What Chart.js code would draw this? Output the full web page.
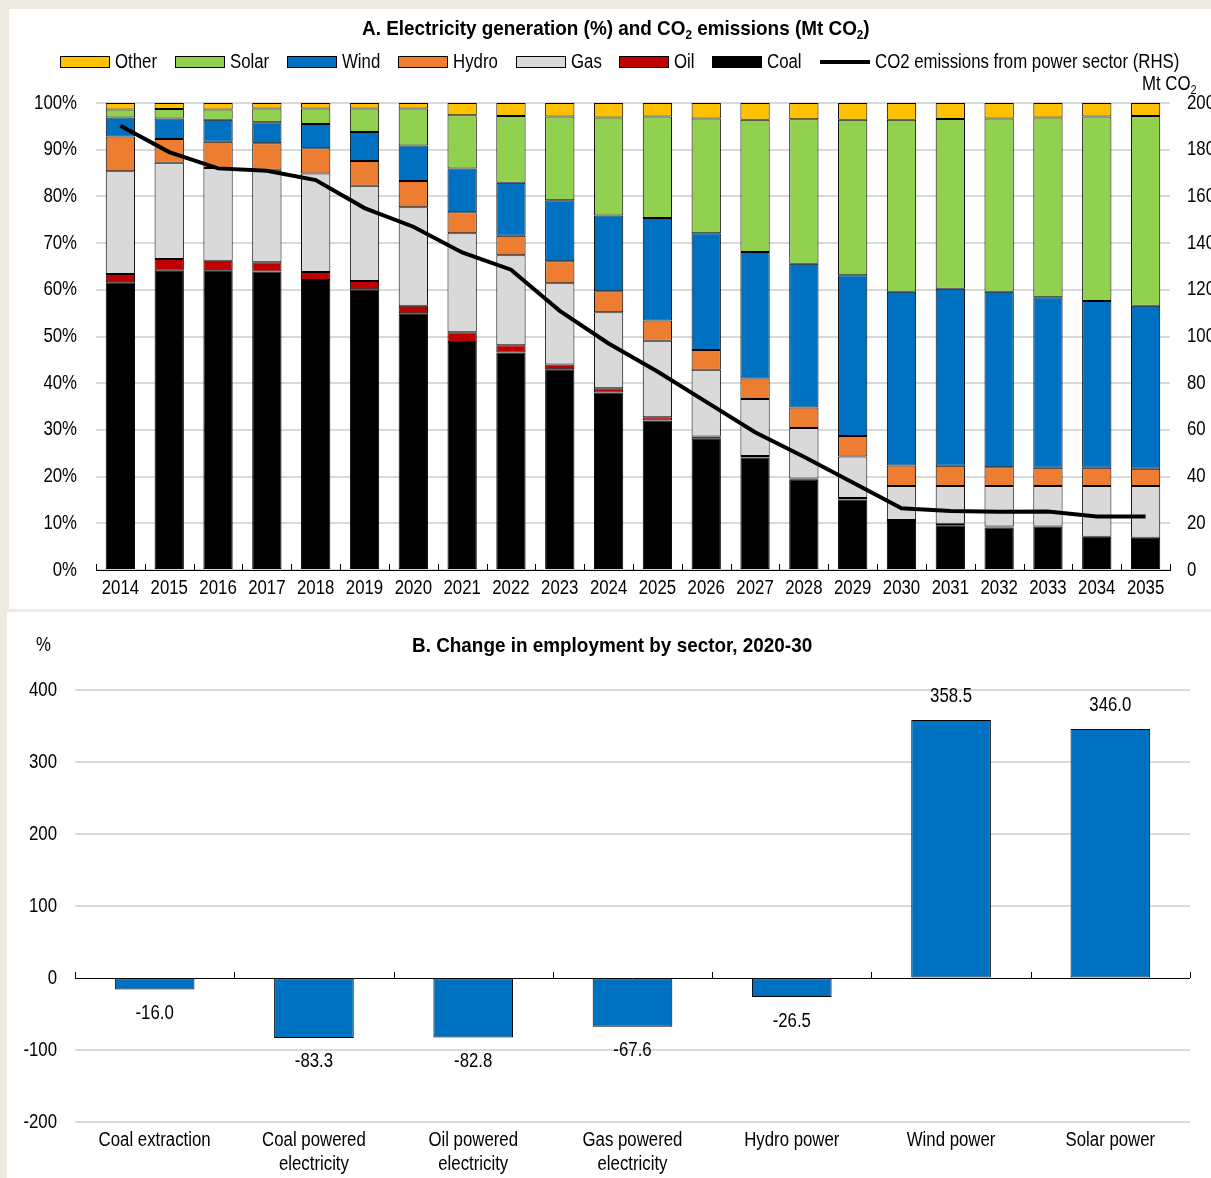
<!DOCTYPE html>
<html>
<head>
<meta charset="utf-8">
<script src="https://cdn.jsdelivr.net/npm/chart.js@4.4.1/dist/chart.umd.min.js"></script>
<style>
  body { margin: 0; background: #edebe0; width: 1211px; height: 1178px; overflow: hidden; position: relative;
         font-family: 'Liberation Sans', Arial, sans-serif; color: #000; }
  .panel { position: absolute; background: #fff; }
  #panelA { left: 9px; top: 9px; width: 1202px; height: 600px; }
  #panelB { left: 7px; top: 612px; width: 1204px; height: 566px; }
  canvas { position: absolute; left: 0; top: 0; }
  .txt { position: absolute; white-space: nowrap; transform-origin: left center; }
  .title { font-weight: bold; font-size: 21px; transform: scaleX(0.9); }
  .title sub, .unit sub { font-size: 13px; vertical-align: -4px; line-height: 0; }
  .lab { font-size: 20px; transform: scaleX(0.84); line-height: 22px; }
  .unit { font-size: 20px; transform: scaleX(0.84); }
  .sw { position: absolute; width: 48px; height: 10px; border: 1px solid #000; top: 47px; }
  .ln { position: absolute; width: 50px; height: 4px; background: #000; top: 51px; }
</style>
</head>
<body>
<div class="panel" id="panelA">
  <canvas id="chartA" width="1202" height="600"></canvas>
  <div class="txt title" style="left:353px; top:7px;">A. Electricity generation (%) and CO<sub>2</sub> emissions (Mt CO<sub>2</sub>)</div>
  <div id="legend"></div>
  <div class="txt unit" style="left:1133px; top:63px;">Mt CO<sub>2</sub></div>
</div>
<div class="panel" id="panelB">
  <canvas id="chartB" width="1204" height="566"></canvas>
  <div class="txt title" style="left:405px; top:21px;">B. Change in employment by sector, 2020-30</div>
  <div class="txt unit" style="left:29px; top:21px;">%</div>
</div>
<script>
// --- panel A data ---
const years = ['2014','2015','2016','2017','2018','2019','2020','2021','2022','2023','2024',
               '2025','2026','2027','2028','2029','2030','2031','2032','2033','2034','2035'];
const coal  = [61.6,64.1,64.2,63.9,62.1,60.1,55.0,48.8,46.6,43.0,38.0,32.0,28.1,24.1,19.3,15.1,10.5,9.6,9.1,9.3,7.1,6.9];
const oil   = [1.8,2.5,2.0,2.0,1.7,1.8,1.6,2.1,1.5,1.0,0.9,0.7,0.5,0.3,0.3,0.3,0.2,0.3,0.2,0.0,0.0,0.0];
const gas   = [22.0,20.6,19.9,19.8,21.1,20.4,21.1,21.2,19.3,17.4,16.3,16.4,14.3,12.2,10.8,8.9,7.3,8.1,8.7,8.7,10.9,11.1];
const hydro = [7.4,5.1,5.6,5.7,5.4,5.3,5.6,4.5,4.2,4.7,4.5,4.3,4.2,4.4,4.4,4.4,4.4,4.3,4.0,3.9,3.9,3.7];
const wind  = [4.1,4.4,4.7,4.5,5.2,6.2,7.6,9.4,11.3,13.1,16.2,22.0,25.0,27.1,30.8,34.4,37.2,37.9,37.6,36.5,35.7,34.9];
const solar = [1.7,2.0,2.2,2.9,3.3,5.0,7.9,11.4,14.3,17.9,21.0,21.7,24.6,28.3,30.9,33.3,36.8,36.4,37.1,38.5,39.5,40.6];
const other = [1.4,1.3,1.4,1.2,1.2,1.2,1.2,2.6,2.8,2.9,3.1,2.9,3.3,3.6,3.5,3.6,3.6,3.4,3.3,3.1,2.9,2.8];
const emissions = [190.3,179,172,171,167,155,147,136,128.6,111,97,85,72,59,48.5,37.5,26.4,25.3,24.9,25,22.9,22.9];
const pctTicks = [0,10,20,30,40,50,60,70,80,90,100];
const mtTicks = [0,20,40,60,80,100,120,140,160,180,200];

// --- panel B data ---
const sectors = ['Coal extraction', ['Coal powered','electricity'], ['Oil powered','electricity'],
                 ['Gas powered','electricity'], 'Hydro power', 'Wind power', 'Solar power'];
const jobChange = [-16.0,-83.3,-82.8,-67.6,-26.5,358.5,346.0];
const jobTicks = [-200,-100,0,100,200,300,400];

const FONT = "'Liberation Sans', Arial, sans-serif";
const SQUEEZE = 0.84;   // the original uses a narrow face
Chart.defaults.font.family = FONT;
Chart.defaults.font.size = 20;
Chart.defaults.color = '#000';
Chart.defaults.animation = false;

const series = [
  { label: 'Coal',  data: coal,  color: '#000000' },
  { label: 'Oil',   data: oil,   color: '#c00000' },
  { label: 'Gas',   data: gas,   color: '#d9d9d9' },
  { label: 'Hydro', data: hydro, color: '#ed7d31' },
  { label: 'Wind',  data: wind,  color: '#0070c0' },
  { label: 'Solar', data: solar, color: '#92d050' },
  { label: 'Other', data: other, color: '#ffc000' }
];

// legend, in the reference order: Other ... Coal, then the line
const legendX = [51, 166, 278, 389, 507, 610, 703];
const legend = document.getElementById('legend');
series.slice().reverse().forEach((s, i) => {
  legend.insertAdjacentHTML('beforeend',
    `<div class="sw" style="left:${legendX[i]}px;background:${s.color}"></div>` +
    `<div class="txt lab" style="left:${legendX[i] + 55}px;top:41px">${s.label}</div>`);
});
legend.insertAdjacentHTML('beforeend',
  `<div class="ln" style="left:811px"></div>` +
  `<div class="txt lab" style="left:866px;top:41px">CO2 emissions from power sector (RHS)</div>`);

function squeezedText(ctx, text, x, y, align) {
  ctx.save();
  ctx.translate(x, y);
  ctx.scale(SQUEEZE, 1);
  ctx.textAlign = align;
  ctx.textBaseline = 'middle';
  ctx.fillText(text, 0, 0);
  ctx.restore();
}

// small upward ticks on the category axis, at category boundaries
function innerTicks(getY) {
  return {
    id: 'innerTicks',
    afterDatasetsDraw(chart) {
      const x = chart.scales.x, ctx = chart.ctx;
      const y = getY(chart);
      const n = chart.data.labels.length;
      const step = (x.right - x.left) / n;
      ctx.save();
      ctx.strokeStyle = '#000';
      ctx.lineWidth = 1;
      ctx.beginPath();
      for (let i = 0; i <= n; i++) {
        const px = Math.round(x.left + i * step) + 0.5;
        ctx.moveTo(px, y);
        ctx.lineTo(px, y - 6);
      }
      ctx.stroke();
      ctx.restore();
    }
  };
}

const labelsA = {
  id: 'labelsA',
  afterDraw(chart) {
    const ctx = chart.ctx, area = chart.chartArea;
    const { x, y, y2 } = chart.scales;
    ctx.save();
    ctx.font = '20px ' + FONT;
    ctx.fillStyle = '#000';
    chart.data.labels.forEach((lab, i) => squeezedText(ctx, lab, x.getPixelForTick(i), area.bottom + 18, 'center'));
    y.ticks.forEach(t => squeezedText(ctx, t.value + '%', area.left - 19, y.getPixelForValue(t.value), 'right'));
    y2.ticks.forEach(t => squeezedText(ctx, String(t.value), area.right + 17, y2.getPixelForValue(t.value), 'left'));
    ctx.restore();
  }
};

const datasetsA = series.map(s => ({
  type: 'bar', label: s.label, data: s.data, backgroundColor: s.color,
  borderColor: '#000', borderWidth: 1, borderSkipped: false,
  yAxisID: 'y', stack: 'gen', order: 1,
  categoryPercentage: 1, barPercentage: 0.6
}));
datasetsA.push({
  type: 'line', label: 'CO2 emissions from power sector (RHS)', data: emissions,
  borderColor: '#000', borderWidth: 4, pointRadius: 0, tension: 0,
  yAxisID: 'y2', order: 0
});

new Chart(document.getElementById('chartA'), {
  data: { labels: years, datasets: datasetsA },
  options: {
    responsive: false,
    layout: { padding: { top: 94, left: 0, right: 0, bottom: 0 } },
    plugins: { legend: { display: false }, tooltip: { enabled: false } },
    scales: {
      x: {
        stacked: true,
        grid: { display: false },
        border: { display: true, color: '#000', width: 1 },
        ticks: { display: false },
        afterFit: s => { s.height = 39; }
      },
      y: {
        stacked: true, min: 0, max: 100, position: 'left',
        afterBuildTicks: s => { s.ticks = pctTicks.map(v => ({ value: v })); },
        ticks: { display: false },
        grid: { color: '#d9d9d9', lineWidth: 2, drawTicks: false },
        border: { display: false },
        afterFit: s => { s.width = 87; }
      },
      y2: {
        min: 0, max: 200, position: 'right',
        afterBuildTicks: s => { s.ticks = mtTicks.map(v => ({ value: v })); },
        ticks: { display: false },
        grid: { display: false, drawTicks: false },
        border: { display: false },
        afterFit: s => { s.width = 41; }
      }
    }
  },
  plugins: [labelsA, innerTicks(chart => chart.scales.x.top)]
});

const labelsB = {
  id: 'labelsB',
  afterDraw(chart) {
    const ctx = chart.ctx, area = chart.chartArea;
    const { x, y } = chart.scales;
    ctx.save();
    ctx.font = '20px ' + FONT;
    ctx.fillStyle = '#000';
    chart.data.labels.forEach((lab, i) => {
      const lines = Array.isArray(lab) ? lab : [lab];
      lines.forEach((line, j) => squeezedText(ctx, line, x.getPixelForTick(i), area.bottom + 18 + j * 24, 'center'));
    });
    y.ticks.forEach(t => squeezedText(ctx, String(t.value), area.left - 18, y.getPixelForValue(t.value), 'right'));
    // value labels at the bar ends
    chart.getDatasetMeta(0).data.forEach((bar, i) => {
      const v = jobChange[i];
      squeezedText(ctx, v.toFixed(1), bar.x, v >= 0 ? bar.y - 23 : bar.y + 24, 'center');
    });
    ctx.restore();
  }
};

new Chart(document.getElementById('chartB'), {
  type: 'bar',
  data: {
    labels: sectors,
    datasets: [{
      data: jobChange, backgroundColor: '#0070c0', borderColor: '#000',
      borderWidth: 1, borderSkipped: false, categoryPercentage: 1, barPercentage: 0.5
    }]
  },
  options: {
    responsive: false,
    layout: { padding: { top: 78, left: 0, right: 21, bottom: 0 } },
    plugins: { legend: { display: false }, tooltip: { enabled: false } },
    scales: {
      x: {
        grid: { display: false },
        border: { display: false },
        ticks: { display: false },
        afterFit: s => { s.height = 56; }
      },
      y: {
        min: -200, max: 400,
        afterBuildTicks: s => { s.ticks = jobTicks.map(v => ({ value: v })); },
        ticks: { display: false },
        grid: {
          drawTicks: false,
          color: c => c.tick && c.tick.value === 0 ? '#000' : '#d9d9d9',
          lineWidth: c => c.tick && c.tick.value === 0 ? 1 : 2
        },
        border: { display: false },
        afterFit: s => { s.width = 68; }
      }
    }
  },
  plugins: [labelsB, innerTicks(chart => Math.round(chart.scales.y.getPixelForValue(0)))]
});
</script>
</body>
</html>
